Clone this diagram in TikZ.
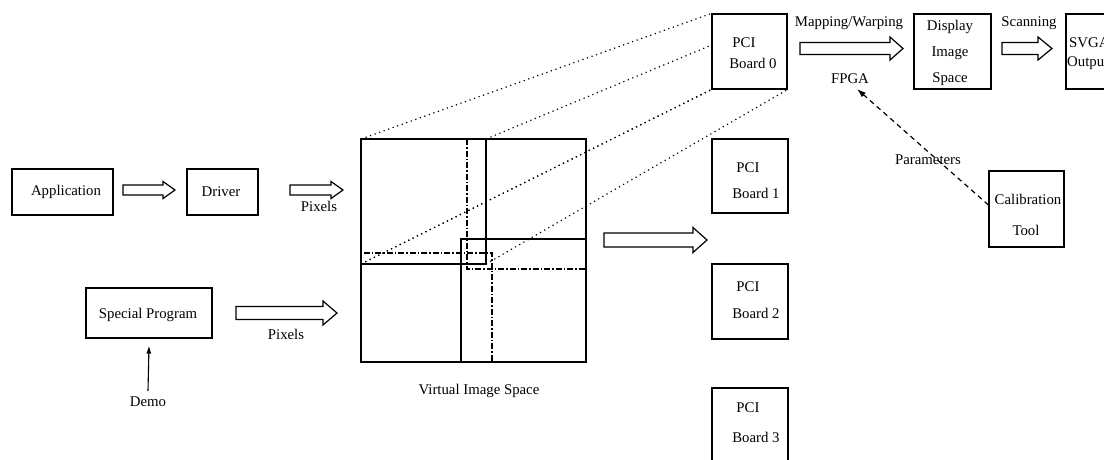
\documentclass[tikz,border=0pt]{standalone}
\usepackage{fontspec}
\setmainfont{Liberation Serif}
\usetikzlibrary{arrows.meta}
\newcommand{\blockarr}[6]{%
  \draw[blk] (#1,{#4-#5}) -- (#3,{#4-#5}) -- (#3,{#4-#6}) -- (#2,#4) -- (#3,{#4+#6}) -- (#3,{#4+#5}) -- (#1,{#4+#5}) -- cycle;}
\tikzset{
  box/.style={draw, line width=1.1pt, fill=white, inner sep=0pt},
  lbl/.style={inner sep=0pt, font=\fontsize{14.8}{17}\selectfont},
  blk/.style={draw, line width=1.2pt, fill=white, line join=miter},
  frame/.style={line width=1.4pt},
  dashdot/.style={line width=1.1pt, dash pattern=on 6pt off 2pt on 1.5pt off 2pt},
  dots/.style={line width=1.2pt, dash pattern=on 1.2pt off 3.6pt},
  param/.style={line width=1.2pt, dash pattern=on 5pt off 4pt}
}
\begin{document}
\begin{tikzpicture}[x=1pt,y=-1pt]
\useasboundingbox (0,0) rectangle (1104,459);
\clip (0,0) rectangle (1104,459);

% virtual image space corners
\coordinate (vtl) at (361,139);
\coordinate (vbr) at (586,362);
\coordinate (q0br) at (486,264);
\coordinate (q0tr) at (486,139);
\coordinate (q0bl) at (361,264);

% dotted projection lines (drawn before board 0 so it hides them)
\node[box, minimum width=75pt, minimum height=75pt] (b0) at (749.5,51.5) {};
\draw[dots] (vtl) -- (b0.north west);
\draw[dots] (q0tr) -- (b0.north east);
\draw[dots] (q0bl) -- (b0.south west);
\draw[dots] (q0br) -- (b0.south east);
\node[box, minimum width=75pt, minimum height=75pt] (b0top) at (749.5,51.5) {};

% virtual image space
\draw[frame] (vtl) rectangle (vbr);
\draw[frame] (vtl) rectangle (q0br);
\draw[frame] (461,239) rectangle (vbr);
\draw[dashdot] (467,139) rectangle (586,269);
\draw[dashdot] (361,253) rectangle (492,362);
\draw[dots] (q0bl) -- (b0.south west);
\node[lbl] (vis) at (479,391) {Virtual Image Space};

% left boxes
\node[box, minimum width=101pt, minimum height=46pt] (app) at (62.5,192) {};
\node[lbl] (appt) at (66,192) {Application};
\node[box, minimum width=71pt, minimum height=46pt] (drv) at (222.5,192) {};
\node[lbl] (drvt) at (221,192) {Driver};
\node[box, minimum width=126pt, minimum height=50pt] (sp) at (149,313) {};
\node[lbl] (spt) at (148,315) {Special Program};
\node[lbl] (demo) at (148,402) {Demo};
\draw[line width=1.1pt, -{Latex[length=8pt,width=5pt]}] ([yshift=6pt]demo.north) -- ([yshift=-7pt]sp.south);

% block arrows
\blockarr{123}{175}{163}{190}{5}{8.5}
\blockarr{290}{343}{331}{190}{5}{8.5}
\node[lbl] (px1) at (319,206) {Pixels};
\blockarr{236}{337}{323}{313}{6.5}{12}
\node[lbl] (px2) at (286,334) {Pixels};
\blockarr{604}{707}{693}{240}{7}{12.5}
\blockarr{800}{903}{890}{48.5}{6}{11.5}
\blockarr{1002}{1052}{1038}{48.5}{6}{11.5}

% board texts
\node[lbl] (p0) at (744,43) {PCI};
\node[lbl] (bt0) at (753,63) {Board 0};
\node[box, minimum width=76pt, minimum height=74pt] (b1) at (750,176) {};
\node[lbl] (p1) at (748,168) {PCI};
\node[lbl] (bt1) at (756,193) {Board 1};
\node[box, minimum width=76pt, minimum height=75pt] (b2) at (750,301.5) {};
\node[lbl] (p2) at (748,287) {PCI};
\node[lbl] (bt2) at (756,313) {Board 2};
\node[box, minimum width=76pt, minimum height=75pt] (b3) at (750,425.5) {};
\node[lbl] (p3) at (748,408) {PCI};
\node[lbl] (bt3) at (756,437) {Board 3};

% top right chain
\node[lbl] (map) at (849,23) {Mapping/Warping};
\node[lbl] (fpga) at (850,79) {FPGA};
\node[box, minimum width=77pt, minimum height=75pt] (dis) at (952.5,51.5) {};
\node[lbl] (d1) at (950,27) {Display};
\node[lbl] (d2) at (950,53) {Image};
\node[lbl] (d3) at (950,79) {Space};
\node[lbl] (scan) at (1029,23) {Scanning};
\node[box, minimum width=75pt, minimum height=75pt] (svga) at (1103.5,51.5) {};
\node[lbl, anchor=west] (s1) at (1069,43) {SVGA};
\node[lbl, anchor=west] (s2) at (1067,63) {Output};

% calibration
\node[box, minimum width=75pt, minimum height=76pt] (cal) at (1026.5,209) {};
\node[lbl] (c1) at (1028,199) {Calibration};
\node[lbl] (c2) at (1026,230) {Tool};
\coordinate (ptip) at (857,89);
\draw[param, -{Latex[length=9pt,width=6pt]}] ([yshift=4pt]cal.west) -- (ptip);
\node[lbl] (par) at (928,160) {Parameters};
\end{tikzpicture}
\end{document}
